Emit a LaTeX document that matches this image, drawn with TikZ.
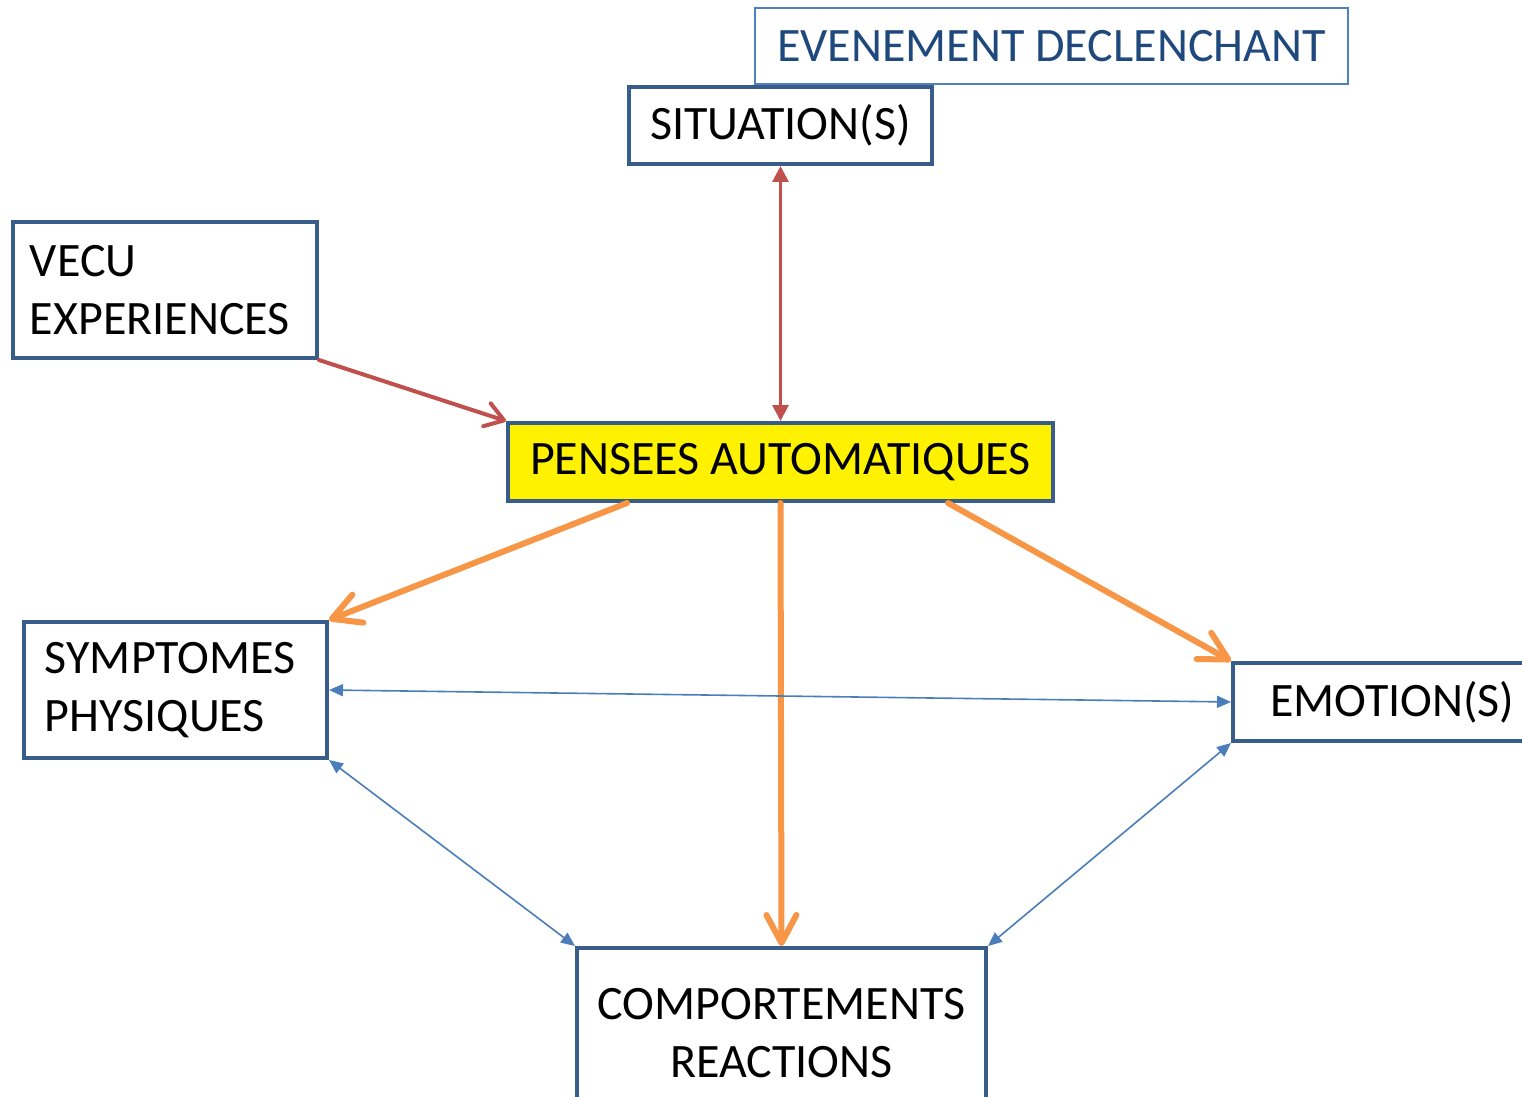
\documentclass[tikz,border=0pt]{standalone}
\usepackage{fontspec}
\setmainfont{Carlito}
\usetikzlibrary{arrows.meta}
\definecolor{bx}{HTML}{385D8A}
\definecolor{rd}{HTML}{C0504D}
\definecolor{og}{HTML}{F79646}
\definecolor{bl}{HTML}{4A7EBB}
\definecolor{lb}{HTML}{4F81BD}
\definecolor{dbt}{HTML}{1F497D}
\tikzset{
  box/.style={draw=bx, line width=2pt, rectangle, inner sep=0pt, font=\fontsize{24}{29}\selectfont},
  redarr/.style={draw=rd, line width=2pt, line cap=round, -{Straight Barb[length=9pt,width=12pt,round]}},
  redboth/.style={draw=rd, line width=1.5pt, {Triangle[length=8pt,width=8pt]}-{Triangle[length=8pt,width=8pt]}},
  orarr/.style={draw=og, line width=3pt, line cap=round, -{Straight Barb[length=14pt,width=15pt,round]}},
  blboth/.style={draw=bl, line width=0.8pt, {Triangle[length=7pt,width=6pt]}-{Triangle[length=7pt,width=6pt]}}
}
\begin{document}
\begin{tikzpicture}[x=0.5pt,y=-0.5pt]
\useasboundingbox (0,0) rectangle (1522,1097);
\node[box, draw=lb, line width=0.75pt, text=dbt, minimum width=296.5pt, minimum height=38pt] (eve) at (1051.5,46) {EVENEMENT DECLENCHANT};
\node[box, minimum width=151.5pt, minimum height=38.5pt] (sit) at (780.5,125.5) {\raisebox{-1pt}{SITUATION(S)}};
\node[box, minimum width=152pt, minimum height=68pt, align=left, text width=135pt] (vec) at (165,290) {VECU\\EXPERIENCES};
\node[box, fill=yellow, minimum width=272.5pt, minimum height=39pt] (pen) at (780.5,462) {\raisebox{-1.5pt}{PENSEES AUTOMATIQUES}};
\node[box, minimum width=151.5pt, minimum height=68pt, align=left, text width=130.5pt] (sym) at (175.5,690) {SYMPTOMES\\PHYSIQUES};
\node[box, minimum width=146pt, minimum height=39pt, align=left, text width=109pt] (emo) at (1379,702) {\makebox[0pt][l]{EMOTION(S)}};
\node[box, minimum width=204.5pt, minimum height=85pt, align=center] (com) at (781.5,1033) {COMPORTEMENTS\\REACTIONS};
\draw[redarr] (vec.south east) -- (pen.north west);
\draw[redboth] (sit.south) -- (pen.north);
\draw[orarr] ([xshift=60.5pt]pen.south west) -- (sym.north east);
\draw[orarr] (pen.south) -- (com.north);
\draw[orarr] ([xshift=-53.5pt]pen.south east) -- (emo.north west);
\draw[blboth] (sym.east) -- (emo.west);
\draw[blboth] (sym.south east) -- (com.north west);
\draw[blboth] (emo.south west) -- (com.north east);
\end{tikzpicture}
\end{document}
